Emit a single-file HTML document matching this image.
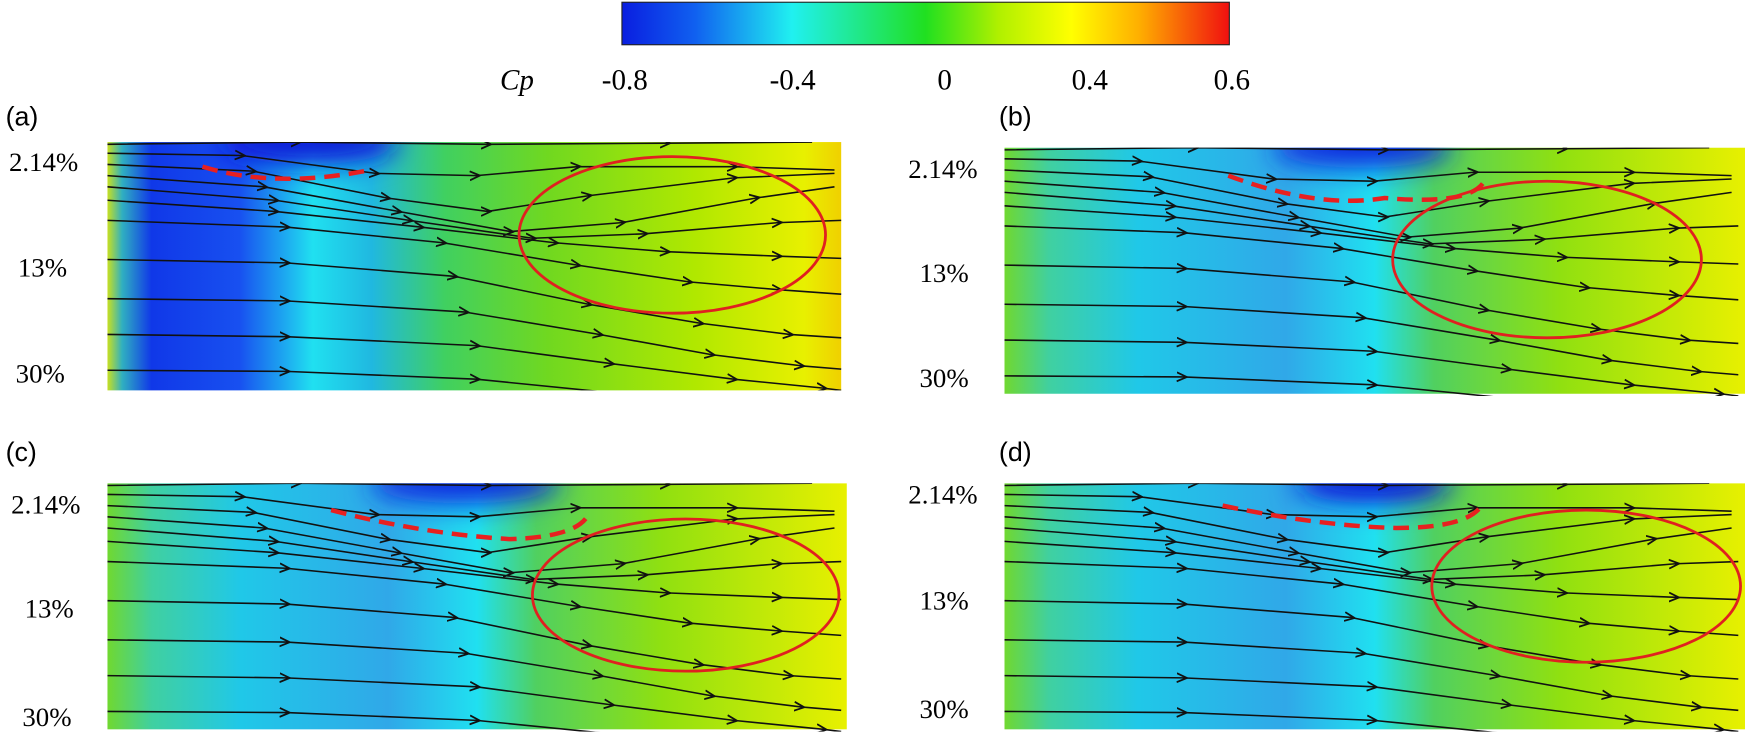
<!DOCTYPE html>
<html><head><meta charset="utf-8"><style>
body{margin:0;background:#fff;width:1750px;height:734px;overflow:hidden;font-family:"Liberation Serif",serif}
</style></head><body>
<svg width="1750" height="734" xmlns="http://www.w3.org/2000/svg" font-family="Liberation Serif, serif">
<defs>
<linearGradient id="cb" x1="0" x2="1" y1="0" y2="0">
<stop offset="0" stop-color="#0a1ee0"/><stop offset="0.12" stop-color="#1060f0"/><stop offset="0.28" stop-color="#20f0f0"/><stop offset="0.5" stop-color="#20e020"/><stop offset="0.62" stop-color="#b0f000"/><stop offset="0.74" stop-color="#ffff00"/><stop offset="0.85" stop-color="#ffb000"/><stop offset="1" stop-color="#f01010"/>
</linearGradient>
<linearGradient id="ga" x1="0" x2="1" y1="0" y2="0">
<stop offset="0" stop-color="#c8e020"/><stop offset="0.02" stop-color="#30b0c0"/><stop offset="0.06" stop-color="#1038e8"/><stop offset="0.18" stop-color="#1850f0"/><stop offset="0.28" stop-color="#20e0f0"/><stop offset="0.36" stop-color="#20b8e0"/><stop offset="0.46" stop-color="#40d060"/><stop offset="0.6" stop-color="#70d820"/><stop offset="0.8" stop-color="#b0e800"/><stop offset="0.95" stop-color="#e8f000"/><stop offset="1" stop-color="#f0d000"/>
</linearGradient>
<linearGradient id="gb" x1="0" x2="1" y1="0" y2="0">
<stop offset="0" stop-color="#70d830"/><stop offset="0.06" stop-color="#40d0a0"/><stop offset="0.18" stop-color="#20c8e8"/><stop offset="0.38" stop-color="#30a8e8"/><stop offset="0.5" stop-color="#20e0f0"/><stop offset="0.58" stop-color="#50d060"/><stop offset="0.75" stop-color="#90e010"/><stop offset="1" stop-color="#e8f000"/>
</linearGradient>
<filter id="bl" x="-50%" y="-100%" width="200%" height="300%"><feGaussianBlur stdDeviation="12"/></filter>
<clipPath id="cp"><rect x="0" y="0" width="662" height="222"/></clipPath>
<marker id="ar" viewBox="0 0 10 10" refX="6" refY="5" markerWidth="10" markerHeight="10" markerUnits="userSpaceOnUse" orient="auto">
<path d="M0,1 L9,5 L0,9" fill="none" stroke="#111" stroke-width="1.6"/>
</marker>
<g id="lines" fill="none" stroke="#111" stroke-width="1.4" marker-mid="url(#ar)" stroke-linejoin="round">
<polyline points="0,2 170,0 340,2 500,1 630,0"/>
<polyline points="0,10 120,12 240,28 330,30 420,22 560,22 650,25"/>
<polyline points="0,20 130,26 250,50 340,62 430,48 560,32 650,28"/>
<polyline points="0,30 140,40 260,62 360,80 460,72 580,50 650,40"/>
<polyline points="0,40 150,52 270,70 380,86 480,82 600,72 656,70"/>
<polyline points="0,52 150,62 280,76 400,90 500,98 600,102 656,104"/>
<polyline points="0,70 160,76 300,90 420,110 520,125 600,132 656,136"/>
<polyline points="0,105 160,108 310,120 430,145 530,162 610,172 656,175"/>
<polyline points="0,140 160,142 320,152 440,172 540,190 620,200 656,203"/>
<polyline points="0,172 160,174 330,182 450,198 560,212 640,220 656,222"/>
<polyline points="0,204 160,205 330,212 450,224"/>
</g>
</defs>
<g transform="scale(1.1186)">
<rect x="556" y="2" width="543" height="38" fill="url(#cb)" stroke="#222"/>
<g font-size="26" font-family="Liberation Serif, serif">
<text x="447" y="80" font-style="italic">Cp</text>
<text x="538" y="80">-0.8</text><text x="688" y="80">-0.4</text><text x="838" y="80">0</text><text x="958" y="80">0.4</text><text x="1085" y="80">0.6</text>
</g>
<g font-family="Liberation Sans, sans-serif" font-size="24">
<text x="5" y="112">(a)</text><text x="893" y="112">(b)</text><text x="5" y="412">(c)</text><text x="893" y="412">(d)</text>
</g>
<g font-size="24">
<text x="8" y="153">2.14%</text><text x="16" y="247">13%</text><text x="14" y="342">30%</text>
<text x="812" y="159">2.14%</text><text x="822" y="252">13%</text><text x="822" y="346">30%</text>
<text x="10" y="459">2.14%</text><text x="22" y="552">13%</text><text x="20" y="649">30%</text>
<text x="812" y="450">2.14%</text><text x="822" y="545">13%</text><text x="822" y="642">30%</text>
</g>
<g transform="translate(96,127)">
<g clip-path="url(#cp)">
<rect width="656" height="223" fill="url(#ga)"/>
<ellipse cx="180" cy="0" rx="80" ry="20" fill="#0818d8" filter="url(#bl)"/>
<use href="#lines"/>
</g>
<ellipse cx="505" cy="83" rx="137" ry="70" fill="none" stroke="#e02020" stroke-width="2.5"/>
<path d="M85,22 Q150,42 235,25" fill="none" stroke="#e82020" stroke-width="4" stroke-dasharray="14,8"/>
</g>
<g transform="translate(898,132)">
<g clip-path="url(#cp)">
<rect width="662" height="220" fill="url(#gb)"/>
<ellipse cx="320" cy="0" rx="80" ry="18" fill="#0c28e0" filter="url(#bl)"/>
<use href="#lines"/>
</g>
<ellipse cx="485" cy="100" rx="138" ry="70" fill="none" stroke="#e02020" stroke-width="2.5"/>
<path d="M200,25 Q280,55 340,45 Q420,52 430,28" fill="none" stroke="#e82020" stroke-width="4" stroke-dasharray="14,8"/>
</g>
<g transform="translate(96,432)">
<g clip-path="url(#cp)">
<rect width="661" height="220" fill="url(#gb)"/>
<ellipse cx="320" cy="0" rx="85" ry="18" fill="#0c28e0" filter="url(#bl)"/>
<use href="#lines"/>
</g>
<ellipse cx="517" cy="100" rx="137" ry="68" fill="none" stroke="#e02020" stroke-width="2.5"/>
<path d="M200,24 Q280,45 360,50 Q420,48 430,28" fill="none" stroke="#e82020" stroke-width="4" stroke-dasharray="14,8"/>
</g>
<g transform="translate(898,432)">
<g clip-path="url(#cp)">
<rect width="662" height="220" fill="url(#gb)"/>
<ellipse cx="330" cy="0" rx="70" ry="18" fill="#0818d8" filter="url(#bl)"/>
<use href="#lines"/>
</g>
<ellipse cx="520" cy="92" rx="138" ry="68" fill="none" stroke="#e02020" stroke-width="2.5"/>
<path d="M195,20 Q280,38 350,40 Q410,40 425,22" fill="none" stroke="#e82020" stroke-width="4" stroke-dasharray="14,8"/>
</g>
</g>
</svg>
</body></html>
